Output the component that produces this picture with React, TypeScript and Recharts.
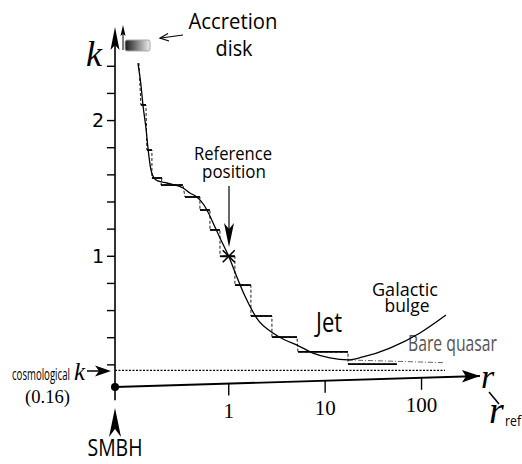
import { ComposedChart, Line, XAxis, YAxis, ReferenceLine, ReferenceDot, Scatter } from "recharts";

// position along r-axis: log10(r / r_ref); origin (SMBH) sits left of the log scale
const curveR = [-0.942, -0.911, -0.89, -0.859, -0.838, -0.807, -0.776, -0.735, -0.641, -0.558, -0.475, -0.403, -0.33, -0.257, -0.216, -0.143, -0.081, 0, 0.064, 0.168, 0.303, 0.459, 0.583, 0.708, 0.874, 1.05, 1.237, 1.392, 1.672, 1.984, 2.253];
const curveK = [2.424, 2.264, 2.115, 1.945, 1.798, 1.636, 1.577, 1.555, 1.54, 1.525, 1.503, 1.466, 1.437, 1.378, 1.326, 1.216, 1.12, 1.0, 0.884, 0.707, 0.531, 0.435, 0.383, 0.346, 0.287, 0.251, 0.236, 0.258, 0.324, 0.435, 0.567];

// staircase (binned k values)
const stepFrom = [-0.911, -0.849, -0.797, -0.703, -0.454, -0.299, -0.195, -0.091, 0.064, 0.23, 0.448, 0.718, 1.237];
const stepTo = [-0.859, -0.797, -0.693, -0.475, -0.299, -0.195, -0.091, 0.064, 0.23, 0.448, 0.708, 1.237, 1.745];
const stepK = [2.115, 1.783, 1.577, 1.525, 1.437, 1.341, 1.194, 1.0, 0.788, 0.56, 0.405, 0.295, 0.206];
const stairStart = { u: -0.932, k: 2.424 };

const bareQuasarR = [1.237, 2.243];
const bareQuasarK = [0.236, 0.216];
const cosmologicalK = 0.16;
const cosmoEndR = 2.243;
const referencePoint = { u: 0, k: 1 };

const xTicks = [0, 1, 2];
const yTicks = [0.2, 0.4, 0.6, 0.8, 1.0, 1.2, 1.4, 1.6, 1.8, 2.0, 2.2, 2.4];
const X_MIN = -1.18;
const X_MAX = 2.98;

// hand-drawn r-axis: slightly tilted line from the origin to the arrow tip
const rAxisFrom = { u: X_MIN, k: 0.037 };
const rAxisTo = { u: 2.606, k: 0.118 };

const curveData = curveR.map((u, i) => ({ u, k: curveK[i] }));
const stairData = [stairStart, ...stepK.flatMap((k, i) => [{ u: stepFrom[i], k }, { u: stepTo[i], k }])];

const sans = "'Open Sans', sans-serif";
const serif = "'Liberation Serif', serif";

let ctx: CanvasRenderingContext2D | null = null;
const measure = (txt: string, size: number, family: string) => {
  if (!ctx) ctx = document.createElement("canvas").getContext("2d");
  if (!ctx) return txt.length * size * 0.55;
  ctx.font = `${size}px ${family}`;
  return ctx.measureText(txt).width;
};

// condensed label: squeeze a regular font to the width seen in the picture
const CText = ({ x, y, w, size, anchor = "start", fill = "#000", family = sans, children }: any) => {
  const nat = measure(children, size, family);
  const sx = w / nat;
  const x0 = anchor === "middle" ? x - w / 2 : x;
  return (
    <text transform={`translate(${x0},${y}) scale(${sx},1)`} fontSize={size} fontFamily={family} fill={fill}>
      {children}
    </text>
  );
};

const YTick = (props: any) => {
  const { x, y, payload } = props;
  const v = payload.value;
  const label = Math.abs(v - 1) < 1e-6 ? "1" : Math.abs(v - 2) < 1e-6 ? "2" : null;
  return (
    <g>
      <line x1={x - 8} x2={x} y1={y} y2={y} stroke="#000" strokeWidth={1.4} />
      {label && (
        <text x={x - 11} y={y} dy="0.36em" textAnchor="end" fontFamily="'DejaVu Sans', sans-serif" fontSize={19} fill="#000">
          {label}
        </text>
      )}
    </g>
  );
};

const XTick = (props: any) => {
  const { x, y, payload } = props;
  // axis drifts up by ~11px over its length
  const ay = y - 5 - (11 * (x - 115)) / 365;
  return (
    <g>
      <line x1={x} x2={x} y1={ay} y2={ay + 12} stroke="#000" strokeWidth={1.4} />
      <text x={x} y={ay + 34} textAnchor="middle" fontFamily={serif} fontSize={21} fill="#000">
        {Math.round(Math.pow(10, payload.value))}
      </text>
    </g>
  );
};

const Asterisk = (props: any) => {
  const { cx, cy } = props;
  const s = 6;
  return (
    <g stroke="#000" strokeWidth={1.6}>
      <line x1={cx - s} y1={cy - s} x2={cx + s} y2={cy + s} />
      <line x1={cx - s} y1={cy + s} x2={cx + s} y2={cy - s} />
      <line x1={cx - s} y1={cy} x2={cx + s} y2={cy} />
    </g>
  );
};

const UpArrowHead = (props: any) => {
  const { cx, cy } = props;
  return <polygon points={`${cx},${cy} ${cx + 4.5},${cy + 23} ${cx},${cy + 18} ${cx - 4.5},${cy + 23}`} fill="#000" />;
};

const RightArrowHead = (props: any) => {
  const { cx, cy } = props;
  return <polygon points={`${cx},${cy} ${cx - 18},${cy + 6.5} ${cx - 14},${cy + 0.4} ${cx - 18},${cy - 6}`} fill="#000" />;
};

export default function App() {
  return (
    <div style={{ position: "absolute", left: 0, top: 0, background: "#fff" }}>
      <ComposedChart width={522} height={464} margin={{ top: 12, right: 6, bottom: 0, left: 0 }}>
        <XAxis
          type="number"
          dataKey="u"
          domain={[X_MIN, X_MAX]}
          ticks={xTicks}
          interval={0}
          height={72}
          axisLine={false}
          tickLine={false}
          tickSize={0}
          tickMargin={0}
          tick={<XTick />}
          allowDataOverflow
        />
        <YAxis
          type="number"
          dataKey="k"
          domain={[0, 2.8]}
          ticks={yTicks}
          interval={0}
          width={115}
          axisLine={false}
          tickLine={false}
          tickSize={0}
          tickMargin={0}
          tick={<YTick />}
          allowDataOverflow
        />

        {/* axes */}
        <ReferenceLine segment={[{ x: X_MIN, y: -0.06 }, { x: X_MIN, y: 2.62 }]} stroke="#000" strokeWidth={1.6} ifOverflow="visible" />
        <ReferenceDot x={X_MIN} y={2.69} r={0} ifOverflow="visible" shape={<UpArrowHead />} />
        <ReferenceLine segment={[rAxisFrom, rAxisTo].map((p) => ({ x: p.u, y: p.k }))} stroke="#000" strokeWidth={1.8} ifOverflow="visible" />
        <ReferenceDot x={rAxisTo.u} y={rAxisTo.k} r={0} ifOverflow="visible" shape={<RightArrowHead />} />
        <ReferenceDot x={rAxisFrom.u} y={rAxisFrom.k} r={4} fill="#000" stroke="none" ifOverflow="visible" />

        {/* cosmological k and bare quasar floor */}
        <ReferenceLine segment={[{ x: X_MIN, y: cosmologicalK }, { x: cosmoEndR, y: cosmologicalK }]} stroke="#000" strokeWidth={1.2} strokeDasharray="2 1.5" ifOverflow="visible" />
        <ReferenceLine
          segment={[{ x: bareQuasarR[0], y: bareQuasarK[0] }, { x: bareQuasarR[1], y: bareQuasarK[1] }]}
          stroke="#666"
          strokeWidth={1}
          strokeDasharray="5 2 1 2"
          ifOverflow="visible"
        />

        {/* staircase */}
        <Line data={stairData} dataKey="k" type="linear" stroke="#000" strokeWidth={0.9} strokeDasharray="3 2" dot={false} isAnimationActive={false} />
        {stepK.map((k, i) => (
          <ReferenceLine key={`step-${i}`} segment={[{ x: stepFrom[i], y: k }, { x: stepTo[i], y: k }]} stroke="#000" strokeWidth={1.8} ifOverflow="visible" />
        ))}

        {/* smooth k(r) */}
        <Line data={curveData} dataKey="k" type="monotone" stroke="#000" strokeWidth={1.3} dot={false} isAnimationActive={false} />
        <Scatter data={[referencePoint]} dataKey="k" shape={<Asterisk />} isAnimationActive={false} />

        {/* annotations */}
        <CText x={233} y={29} w={89} size={22} anchor="middle">Accretion</CText>
        <CText x={234} y={56} w={37} size={22} anchor="middle">disk</CText>
        <CText x={233} y={160} w={78} size={19} anchor="middle">Reference</CText>
        <CText x={234} y={178} w={64} size={19} anchor="middle">position</CText>
        <CText x={316} y={332} w={26} size={28}>Jet</CText>
        <CText x={405} y={296} w={66} size={19} anchor="middle">Galactic</CText>
        <CText x={407} y={312} w={45} size={19} anchor="middle">bulge</CText>
        <CText x={408} y={351} w={89} size={21} fill="#555">Bare quasar</CText>
        <CText x={115} y={456} w={55} size={24} anchor="middle">SMBH</CText>
        <CText x={12} y={380} w={58} size={17}>cosmological</CText>
        <CText x={505} y={426} w={16} size={15}>ref</CText>
        <CText x={25} y={403} w={45} size={19} family={serif}>(0.16)</CText>

        <g fontFamily={serif} fill="#000" fontStyle="italic">
          <text x={74} y={380} fontSize={25}>k</text>
          <text x={86} y={66} fontSize={36}>k</text>
          <text x={481} y={388} fontSize={34}>r</text>
          <text x={489} y={423} fontSize={38}>r</text>
        </g>
        <line x1={489} y1={392} x2={499} y2={404} stroke="#000" strokeWidth={1.5} />

        {/* accretion disk */}
        <defs>
          <linearGradient id="diskGrad" x1="0" x2="1" y1="0" y2="0">
            <stop offset="0" stopColor="#1a1a1a" />
            <stop offset="1" stopColor="#eeeeee" />
          </linearGradient>
        </defs>
        <rect x={125} y={40} width={25} height={11} rx={2} fill="url(#diskGrad)" stroke="#aaa" strokeWidth={1} />
        <line x1={123} y1={50} x2={123} y2={32} stroke="#000" strokeWidth={1} />
        <polygon points="123,25 125.5,36 123,34 120.5,36" fill="#000" />
        <line x1={183} y1={35} x2={161} y2={38} stroke="#000" strokeWidth={1.2} />
        <polyline points="168,33.5 160,38 169,41" fill="none" stroke="#000" strokeWidth={1.2} />

        {/* reference position arrow */}
        <line x1={229} y1={186} x2={229} y2={230} stroke="#000" strokeWidth={1.2} />
        <polygon points="229,247 234,223 229,229 224,223" fill="#000" />

        {/* cosmological arrow */}
        <line x1={87} y1={371} x2={100} y2={371} stroke="#000" strokeWidth={1.5} />
        <polygon points="111,371 95,365.5 99,371 95,376.5" fill="#000" />

        {/* SMBH arrow */}
        <polygon points="115,408 121,437 115,429 109,437" fill="#000" />
      </ComposedChart>
    </div>
  );
}
